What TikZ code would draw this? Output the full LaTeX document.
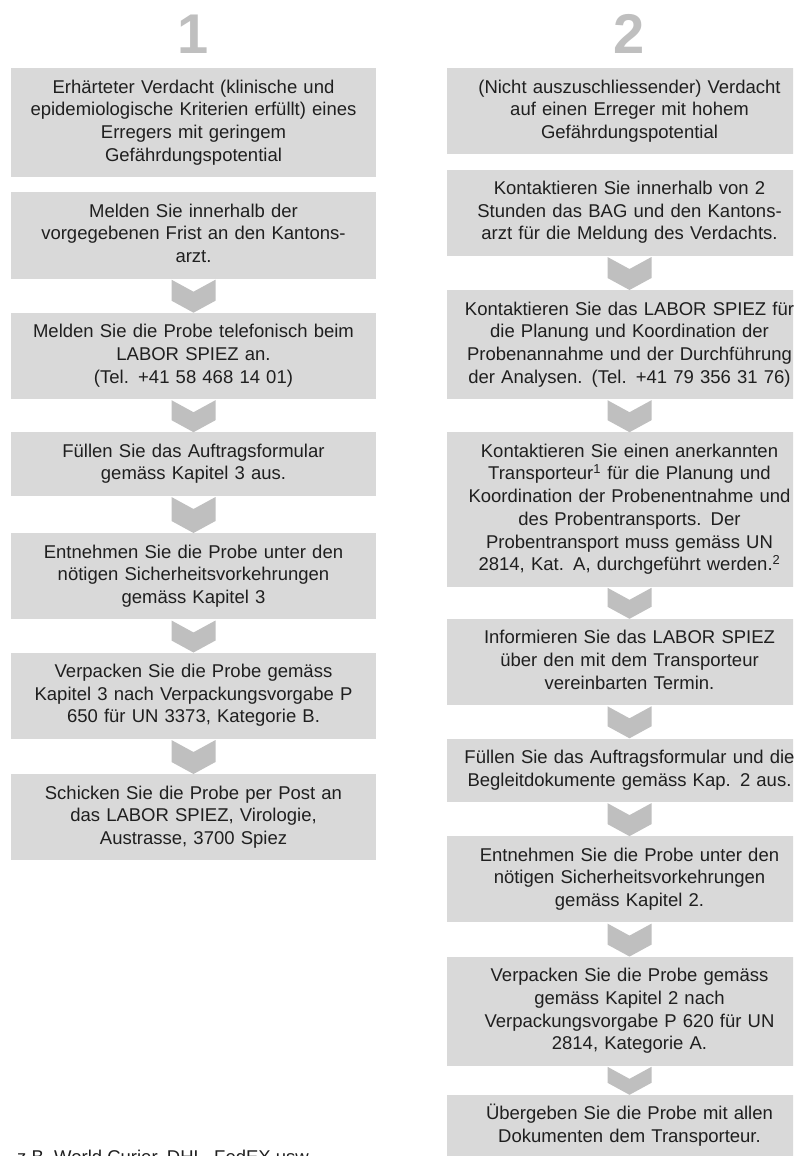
\documentclass[tikz,border=0pt]{standalone}
\usepackage{fontspec}
\setmainfont{Liberation Sans}
\usetikzlibrary{calc,positioning}

\definecolor{boxgray}{HTML}{D9D9D9}
\definecolor{chevgray}{HTML}{BFBFBF}
\definecolor{txtgray}{HTML}{1F1F1F}

% chevron between two boxes
\newcommand{\chevr}[2]{%
  \fill[chev] ($(#1.south)+(-22,1)$) -- ($(#1.south)+(0,13)$) -- ($(#1.south)+(22,1)$)
    -- ($(#2.north)+(22,-12)$) -- (#2.north) -- ($(#2.north)+(-22,-12)$) -- cycle;}

\begin{document}
\begin{tikzpicture}[x=1pt,y=-1pt,
  box/.style={fill=boxgray,text=txtgray,align=center,text width=357pt,
    minimum width=365pt,inner xsep=4pt,inner ysep=9pt,
    font=\fontsize{18.5}{22.7}\selectfont,
    execute at begin node=\strut,execute at end node=\strut},
  chev/.style={fill=chevgray},
  num/.style={text=chevgray,font=\fontsize{56}{60}\selectfont\bfseries,anchor=base}
]
\useasboundingbox (0,0) rectangle (793,1156);
\clip (0,0) rectangle (793,1156);

\node[num] (n1) at (193.5,53) {1};
\node[num] (n2) at (629.5,53) {2};

% left column
\node[box,anchor=north] (b1) at (193.5,68) {Erhärteter Verdacht (klinische und\\epidemiologische Kriterien erfüllt) eines\\Erregers mit geringem\\Gefährdungspotential};
\node[box,below=15pt of b1] (b2) {Melden Sie innerhalb der\\vorgegebenen Frist an den Kantons-\\arzt.};
\node[box,below=34pt of b2] (b3) {Melden Sie die Probe telefonisch beim\\LABOR SPIEZ an.\\(Tel. +41 58 468 14 01)};
\node[box,below=33pt of b3] (b4) {Füllen Sie das Auftragsformular\\gemäss Kapitel 3 aus.};
\node[box,below=37pt of b4] (b5) {Entnehmen Sie die Probe unter den\\nötigen Sicherheitsvorkehrungen\\gemäss Kapitel 3};
\node[box,below=33pt of b5] (b6) {Verpacken Sie die Probe gemäss\\Kapitel 3 nach Verpackungsvorgabe P\\650 für UN 3373, Kategorie B.};
\node[box,below=35pt of b6] (b7) {Schicken Sie die Probe per Post an\\das LABOR SPIEZ, Virologie,\\Austrasse, 3700 Spiez};

\chevr{b2}{b3}
\chevr{b3}{b4}
\chevr{b4}{b5}
\chevr{b5}{b6}
\chevr{b6}{b7}

% right column
\node[box,anchor=north] (c1) at (629.5,68) {(Nicht auszuschliessender) Verdacht\\auf einen Erreger mit hohem\\Gefährdungspotential};
\node[box,below=15pt of c1] (c2) {Kontaktieren Sie innerhalb von 2\\Stunden das BAG und den Kantons-\\arzt für die Meldung des Verdachts.};
\node[box,below=34pt of c2] (c3) {Kontaktieren Sie das LABOR SPIEZ für\\die Planung und Koordination der\\Probenannahme und der Durchführung\\der Analysen. (Tel. +41 79 356 31 76)};
\node[box,below=33pt of c3] (c4) {Kontaktieren Sie einen anerkannten\\Transporteur\textsuperscript{1} für die Planung und\\Koordination der Probenentnahme und\\des Probentransports. Der\\Probentransport muss gemäss UN\\2814, Kat. A, durchgeführt werden.\textsuperscript{2}};
\node[box,below=32pt of c4] (c5) {Informieren Sie das LABOR SPIEZ\\über den mit dem Transporteur\\vereinbarten Termin.};
\node[box,below=33pt of c5] (c6) {Füllen Sie das Auftragsformular und die\\Begleitdokumente gemäss Kap. 2 aus.};
\node[box,below=34pt of c6] (c7) {Entnehmen Sie die Probe unter den\\nötigen Sicherheitsvorkehrungen\\gemäss Kapitel 2.};
\node[box,below=34pt of c7] (c8) {Verpacken Sie die Probe gemäss\\gemäss Kapitel 2 nach\\Verpackungsvorgabe P 620 für UN\\2814, Kategorie A.};
\node[box,below=29pt of c8] (c9) {Übergeben Sie die Probe mit allen\\Dokumenten dem Transporteur.};

\chevr{c2}{c3}
\chevr{c3}{c4}
\chevr{c4}{c5}
\chevr{c5}{c6}
\chevr{c6}{c7}
\chevr{c7}{c8}
\chevr{c8}{c9}

% footnote
\node[anchor=base west,text=txtgray,inner sep=0pt,font=\fontsize{18.5}{22}\selectfont] (fn) at (17,1163) {z.B. World Curier, DHL, FedEX usw.};
\end{tikzpicture}
\end{document}
